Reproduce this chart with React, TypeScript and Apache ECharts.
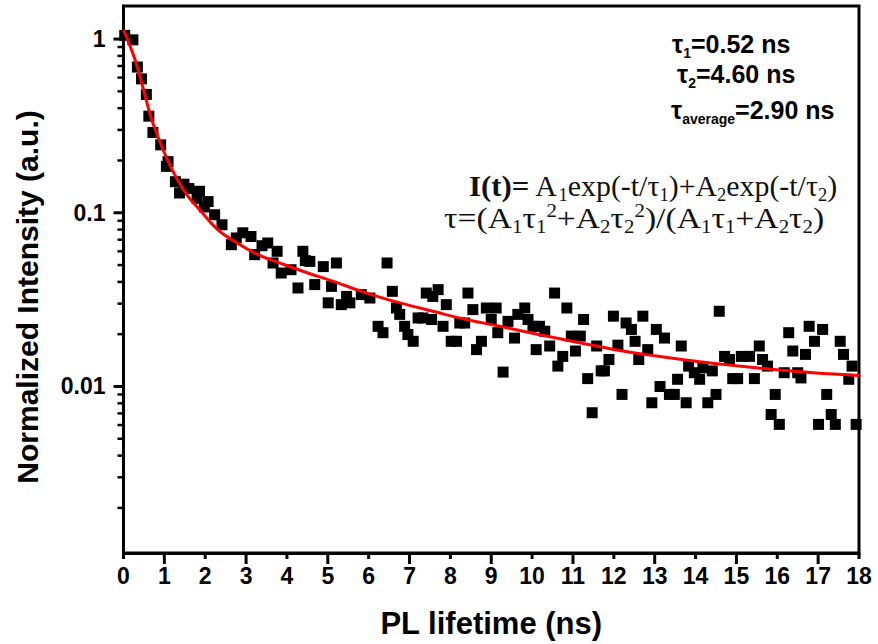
import React, { useEffect, useRef } from "react";
import * as echarts from "echarts";

// ---- measured data (PL decay) ----
const lifetimeNs = [
  0.03, 0.23, 0.34, 0.44, 0.56, 0.62, 0.72, 0.91, 1.05, 1.09, 1.27, 1.37, 1.48, 1.6, 1.8, 1.86, 1.98, 2.07, 2.23, 2.41,
  2.64, 2.76, 2.92, 3.12, 3.21, 3.39, 3.53, 3.66, 3.76, 3.86, 4.1, 4.27, 4.39, 4.45, 4.56, 4.68, 4.89, 5.01, 5.09, 5.21,
  5.33, 5.46, 5.54, 5.82, 6.03, 6.23, 6.35, 6.45, 6.58, 6.68, 6.76, 6.88, 6.96, 7.09, 7.21, 7.33, 7.41, 7.54, 7.57, 7.7,
  7.82, 7.9, 8.02, 8.15, 8.23, 8.35, 8.43, 8.55, 8.64, 8.76, 8.88, 9.0, 9.12, 9.16, 9.29, 9.41, 9.57, 9.65, 9.82, 9.9,
  10.02, 10.1, 10.18, 10.31, 10.43, 10.55, 10.63, 10.75, 10.85, 10.96, 11.06, 11.18, 11.26, 11.36, 11.47, 11.58, 11.69,
  11.77, 11.88, 11.99, 12.1, 12.2, 12.3, 12.43, 12.52, 12.61, 12.71, 12.83, 12.93, 13.04, 13.13, 13.24, 13.36, 13.48,
  13.56, 13.65, 13.77, 13.83, 13.97, 14.1, 14.18, 14.3, 14.41, 14.5, 14.58, 14.71, 14.83, 14.91, 15.03, 15.12, 15.32,
  15.44, 15.56, 15.64, 15.76, 15.85, 15.95, 16.05, 16.17, 16.28, 16.38, 16.5, 16.58, 16.69, 16.78, 16.91, 17.01, 17.11,
  17.21, 17.32, 17.42, 17.54, 17.62, 17.75, 17.83, 17.93,
];
const intensity = [
  1.05, 0.99, 0.69, 0.59, 0.48, 0.36, 0.29, 0.246, 0.185, 0.197, 0.151, 0.13, 0.146, 0.138, 0.121, 0.133, 0.108, 0.116,
  0.0974, 0.0853, 0.0655, 0.0716, 0.0767, 0.073, 0.0574, 0.0646, 0.067, 0.0514, 0.06, 0.045, 0.047, 0.0369, 0.06, 0.053,
  0.0525, 0.0386, 0.049, 0.0303, 0.0377, 0.0514, 0.0296, 0.033, 0.0303, 0.0338, 0.0323, 0.0222, 0.0204, 0.0514, 0.0353,
  0.0283, 0.026, 0.0222, 0.0199, 0.0182, 0.0248, 0.0248, 0.0345, 0.0243, 0.033, 0.0361, 0.0222, 0.0296, 0.0182, 0.0182,
  0.0232, 0.0232, 0.0345, 0.0277, 0.0163, 0.0182, 0.0283, 0.0243, 0.0283, 0.0204, 0.0121, 0.0237, 0.019, 0.026, 0.0283,
  0.0243, 0.0222, 0.0163, 0.0222, 0.0208, 0.0171, 0.0345, 0.0131, 0.0149, 0.0283, 0.0195, 0.016, 0.0195, 0.0243, 0.0111,
  0.00706, 0.0171, 0.0123, 0.0123, 0.0143, 0.0254, 0.0173, 0.009, 0.0232, 0.0213, 0.0182, 0.0143, 0.0254, 0.0163,
  0.00806, 0.0213, 0.01, 0.019, 0.009, 0.009, 0.011, 0.0171, 0.00806, 0.0131, 0.012, 0.011, 0.0128, 0.00806, 0.0123,
  0.009, 0.0271, 0.0149, 0.0143, 0.0111, 0.0111, 0.0149, 0.0149, 0.0111, 0.0171, 0.0143, 0.0131, 0.0069, 0.009,
  0.00605, 0.012, 0.0204, 0.016, 0.012, 0.0112, 0.0153, 0.0222, 0.0182, 0.00605, 0.0213, 0.009, 0.0069, 0.00605,
  0.0182, 0.0153, 0.011, 0.0131, 0.00605,
];

// ---- bi-exponential fit curve ----
const fitTimeNs = [
  0, 0.27, 0.48, 0.68, 0.92, 1.17, 1.5, 1.9, 2.31, 2.72, 3.29, 3.94, 4.51, 5.13, 5.95, 6.76, 7.57, 8.39, 9.21, 9.78,
  10.59, 11.41, 12.22, 13.04, 13.85, 14.42, 15.24, 16.05, 16.87, 18,
];
const fitIntensity = [
  1.13, 0.775, 0.521, 0.35, 0.246, 0.181, 0.132, 0.1016, 0.0798, 0.0684, 0.0574, 0.0502, 0.045, 0.0403, 0.0345, 0.0303,
  0.0271, 0.0243, 0.0222, 0.0208, 0.019, 0.0174, 0.016, 0.01496, 0.0141, 0.0136, 0.01297, 0.01245, 0.012, 0.01156,
];

// ---- axis ticks ----
const yMajorTicks = [1, 0.1, 0.01];
const yMinorTicks = [
  0.9, 0.8, 0.7, 0.6, 0.5, 0.4, 0.3, 0.2, 0.09, 0.08, 0.07, 0.06, 0.05, 0.04, 0.03, 0.02, 0.009, 0.008, 0.007, 0.006,
  0.005, 0.004, 0.003, 0.002,
];
const xLongTicks = [1, 3, 5, 7, 9, 11, 13, 15, 17];
const xShortTicks = [0, 2, 4, 6, 8, 10, 12, 14, 16, 18];

const SANS = '"Liberation Sans", Arial, Helvetica, sans-serif';
const SERIF = '"Liberation Serif", "Times New Roman", Times, serif';

function tickSeries(values: number[], kind: "x" | "y", len: number, width: number) {
  return {
    type: "custom",
    silent: true,
    clip: false,
    z: 6,
    data: kind === "x" ? values.map((t) => [t, 1]) : values.map((v) => [0, v]),
    renderItem: (params: any, api: any) => {
      const cs = params.coordSys;
      const p = api.coord([api.value(0), api.value(1)]);
      if (kind === "x") {
        const y0 = cs.y + cs.height;
        return {
          type: "line",
          shape: { x1: p[0], y1: y0, x2: p[0], y2: y0 + len },
          style: { stroke: "#000", lineWidth: width },
        };
      }
      const x0 = cs.x;
      return {
        type: "line",
        shape: { x1: x0 - len, y1: p[1], x2: x0, y2: p[1] },
        style: { stroke: "#000", lineWidth: width },
      };
    },
  };
}

function decadeLabel(v: number): string {
  const lg = Math.log10(v);
  const e = Math.round(lg);
  if (Math.abs(lg - e) > 1e-6) return "";
  if (e >= 0) return String(Math.pow(10, e));
  return "0." + "0".repeat(-e - 1) + "1";
}

const richSans = {
  m: { fontFamily: SANS, fontWeight: "bold", fontSize: 25, lineHeight: 30, fill: "#000" },
  s: {
    fontFamily: SANS,
    fontWeight: "bold",
    fontSize: 14,
    lineHeight: 12,
    height: 13,
    verticalAlign: "bottom",
    fill: "#000",
  },
};
const richSerif = {
  b: { fontFamily: SERIF, fontWeight: "bold", fontSize: 30, lineHeight: 30, fill: "#111" },
  r: { fontFamily: SERIF, fontSize: 29, lineHeight: 30, fill: "#111" },
  sub: { fontFamily: SERIF, fontSize: 18, lineHeight: 12, height: 12, verticalAlign: "bottom", fill: "#111" },
  sup: { fontFamily: SERIF, fontSize: 18, lineHeight: 16, height: 16, verticalAlign: "top", fill: "#111" },
};

export default function App() {
  const ref = useRef<HTMLDivElement>(null);

  useEffect(() => {
    document.body.style.margin = "0";
    if (!ref.current) return;
    const chart = echarts.init(ref.current, null, { renderer: "svg" });
    const scatterData = lifetimeNs.map((t, i) => [t, intensity[i]]);
    const fitData = fitTimeNs.map((t, i) => [t, fitIntensity[i]]);

    chart.setOption({
      animation: false,
      backgroundColor: "#fff",
      grid: {
        left: 123.5,
        right: 19,
        top: 6,
        bottom: 90,
        show: true,
        borderColor: "#000",
        borderWidth: 3,
        backgroundColor: "transparent",
      },
      xAxis: {
        type: "value",
        min: 0,
        max: 18,
        interval: 1,
        name: "PL lifetime (ns)",
        nameLocation: "middle",
        nameGap: 55,
        nameTextStyle: { fontFamily: SANS, fontWeight: "bold", fontSize: 31, color: "#000" },
        axisLine: { show: true, lineStyle: { color: "#000", width: 3 } },
        axisTick: { show: false },
        splitLine: { show: false },
        axisLabel: { fontFamily: SANS, fontWeight: "bold", fontSize: 23, color: "#000", margin: 11 },
      },
      yAxis: {
        type: "log",
        logBase: 10,
        min: 0.0011,
        max: 1.55,
        axisLine: { show: true, lineStyle: { color: "#000", width: 3 } },
        axisTick: { show: false },
        minorTick: { show: false },
        splitLine: { show: false },
        axisLabel: {
          fontFamily: SANS,
          fontWeight: "bold",
          fontSize: 23,
          color: "#000",
          margin: 18,
          formatter: (v: number) => decadeLabel(v),
        },
      },
      graphic: [
        {
          type: "text",
          x: 27,
          y: 297,
          rotation: Math.PI / 2,
          style: {
            text: "Normalized Intensity (a.u.)",
            font: `bold 30px ${SANS}`,
            fill: "#000",
            align: "center",
            verticalAlign: "middle",
          },
        },
        { type: "text", x: 672, y: 29, style: { text: "{m|τ}{s|1}{m|=0.52 ns}", rich: richSans } },
        { type: "text", x: 677, y: 59, style: { text: "{m|τ}{s|2}{m|=4.60 ns}", rich: richSans } },
        { type: "text", x: 671, y: 95, style: { text: "{m|τ}{s|average}{m|=2.90 ns}", rich: richSans } },
        {
          type: "text",
          x: 469,
          y: 171,
          scaleX: 1.03,
          style: {
            text: "{b|I(t)=}{r| A}{sub|1}{r|exp(-t/τ}{sub|1}{r|)+A}{sub|2}{r|exp(-t/τ}{sub|2}{r|)}",
            rich: richSerif,
          },
        },
        {
          type: "text",
          x: 444,
          y: 203,
          scaleX: 1.16,
          style: {
            text:
              "{r|τ=(A}{sub|1}{r|τ}{sub|1}{sup|2}{r|+A}{sub|2}{r|τ}{sub|2}{sup|2}{r|)/(A}{sub|1}{r|τ}{sub|1}{r|+A}{sub|2}{r|τ}{sub|2}{r|)}",
            rich: richSerif,
          },
        },
      ],
      series: [
        {
          type: "scatter",
          data: scatterData,
          symbol: "rect",
          symbolSize: 11,
          itemStyle: { color: "#000", opacity: 1 },
          z: 2,
          silent: true,
        },
        {
          type: "line",
          data: fitData,
          smooth: 0.4,
          showSymbol: false,
          lineStyle: { color: "#ff0000", width: 3 },
          z: 3,
          silent: true,
        },
        tickSeries(yMajorTicks, "y", 10, 3),
        tickSeries(yMinorTicks, "y", 6, 2.5),
        tickSeries(xLongTicks, "x", 11, 3),
        tickSeries(xShortTicks, "x", 6, 3),
      ],
    });
    return () => chart.dispose();
  }, []);

  return <div ref={ref} style={{ width: 878, height: 644 }} />;
}
